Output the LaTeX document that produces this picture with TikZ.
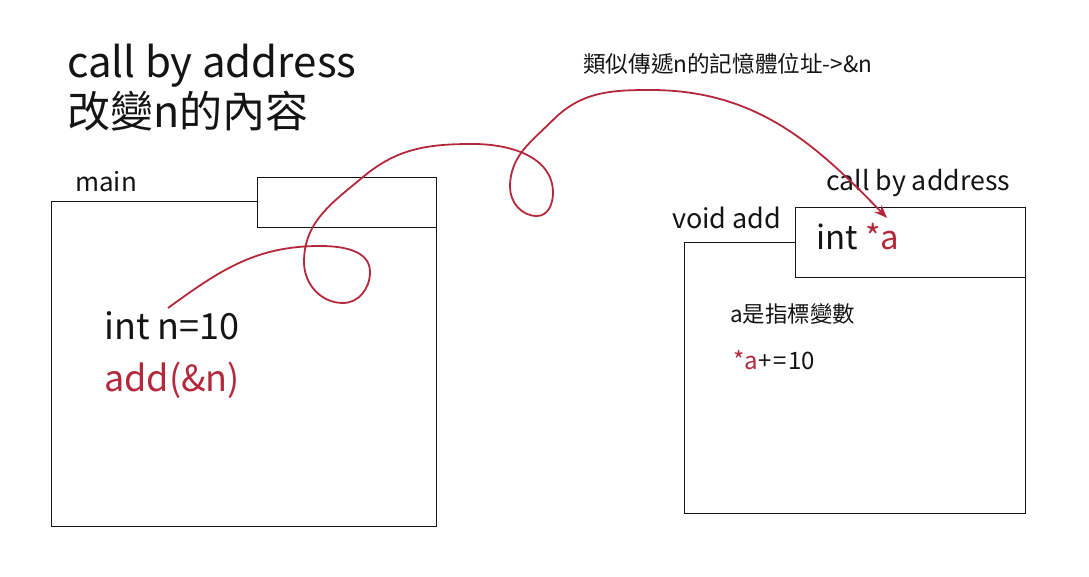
\documentclass[tikz,border=0pt]{standalone}
\usepackage{fontspec}
\setmainfont{Noto Sans CJK TC}
\usetikzlibrary{arrows.meta}
\definecolor{cred}{RGB}{180,40,60}
\definecolor{ink}{RGB}{20,20,20}
\tikzset{
  box/.style={draw=ink, line width=1.3pt, fill=white, inner sep=0pt, anchor=south west},
  txt/.style={inner sep=0pt, anchor=base west, text=ink},
  link/.style={draw=cred, line width=1.8pt, -{Stealth[length=13pt,width=10pt]}}
}
\begin{document}
\begin{tikzpicture}[x=1pt,y=1pt]
\useasboundingbox (0,0) rectangle (1089,577);
% boxes
\node[box, minimum width=385, minimum height=325] (mainbox) at (51,50) {};
\node[box, minimum width=179, minimum height=50] (mainsmall) at (257,349) {};
\node[box, minimum width=341, minimum height=271] (addbox) at (684,63) {};
\node[box, minimum width=230, minimum height=70] (addsmall) at (795,299) {};
% texts
\node[txt, font=\fontsize{42}{48}\selectfont] (t1) at (67,499) {call by address};
\node[txt, font=\fontsize{43}{48}\selectfont] (t2) at (67,449) {改變n的內容};
\node[txt, font=\fontsize{26}{30}\selectfont] (lmain) at (75,385) {main};
\node[txt, font=\fontsize{36}{40}\selectfont] (intn) at (104,237) {int n=10};
\node[txt, font=\fontsize{36}{40}\selectfont, text=cred] (addn) at (104,185) {add(\&n)};
\node[txt, font=\fontsize{27}{30}\selectfont] (lvoid) at (672,348) {void add};
\node[txt, font=\fontsize{26.7}{30}\selectfont] (lcall) at (826,386) {call by address};
\node[txt, font=\fontsize{33}{38}\selectfont] (inta) at (816,327) {int \textcolor{cred}{*a}};
\node[txt, font=\fontsize{22.4}{26}\selectfont] (ptr) at (730,254) {a是指標變數};
\node[txt, font=\fontsize{24}{28}\selectfont] (plus) at (733,207) {\textcolor{cred}{*a}\kern1pt+\kern1.5pt=\kern1pt10};
\node[txt, font=\fontsize{22.6}{26}\selectfont] (note) at (583,504) {類似傳遞n的記憶體位址->\&n};
% connector
\coordinate (s) at (168,269);
\coordinate (e) at (887,359);
\path[link] (s) to[out=36,in=180] (320,331) to[out=0,in=90] (370,305)
  to[out=270,in=0] (343,274) to[out=180,in=270] (304,315)
  to[out=90,in=220] (363,400) to[out=40,in=180] (473,433)
  to[out=0,in=90] (553,384) to[out=270,in=0] (537,361)
  to[out=180,in=270] (510,390) to[out=90,in=225] (553,457)
  to[out=45,in=180] (650,487) to[out=0,in=134] (e);
\end{tikzpicture}
\end{document}
